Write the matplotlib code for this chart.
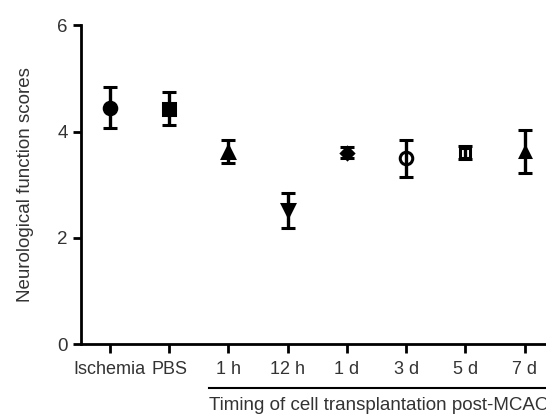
import matplotlib.pyplot as plt
from matplotlib.lines import Line2D

groups = ["Ischemia", "PBS", "1 h", "12 h", "1 d", "3 d", "5 d", "7 d"]
means = [4.45, 4.43, 3.62, 2.52, 3.60, 3.50, 3.60, 3.62]
errors = [0.38, 0.31, 0.22, 0.33, 0.10, 0.35, 0.12, 0.40]
markers = ["o", "s", "^", "v", "D", "o", "s", "^"]
filled = [True, True, True, True, True, False, False, True]
msizes = [9, 9, 8, 8, 6, 9, 7, 7]

plt.rcParams["font.family"] = ["Liberation Sans", "DejaVu Sans"]
txt = "#333333"
fs = 13.5

fig = plt.figure(figsize=(5.46, 4.15), dpi=100)
ax = fig.add_axes([0.148, 0.171, 0.852, 0.768])

for i, (m, e, mk, f, ms) in enumerate(zip(means, errors, markers, filled, msizes)):
    ax.errorbar(i, m, yerr=e, fmt=mk, color="black", ms=ms,
                mfc="black" if f else "none", mec="black", mew=2.2,
                elinewidth=2.4, capsize=5, capthick=2.4, zorder=3)

ax.set_xlim(-0.49, 7.36)
ax.set_ylim(0, 6)
ax.set_yticks([0, 2, 4, 6])
ax.set_xticks(range(len(groups)))
ax.set_xticklabels(groups, fontsize=13, color=txt)
ax.tick_params(axis="y", labelsize=fs, labelcolor=txt, width=2, length=6, pad=3.5)
ax.tick_params(axis="x", width=2, length=6.5, pad=6)
ax.set_ylabel("Neurological function scores", fontsize=fs, color=txt, labelpad=17)

for side in ["top", "right"]:
    ax.spines[side].set_visible(False)
for side in ["left", "bottom"]:
    ax.spines[side].set_linewidth(2)

# bracket under the transplantation groups
ax.add_line(Line2D([1.68, 7.5], [-0.138, -0.138], transform=ax.get_xaxis_transform(),
                   color="black", lw=1.5, clip_on=False))
ax.text(1.68, -0.193, "Timing of cell transplantation post-MCAO",
        transform=ax.get_xaxis_transform(), ha="left", va="center",
        fontsize=fs, color=txt, clip_on=False)

fig.savefig("out.png", dpi=100)
